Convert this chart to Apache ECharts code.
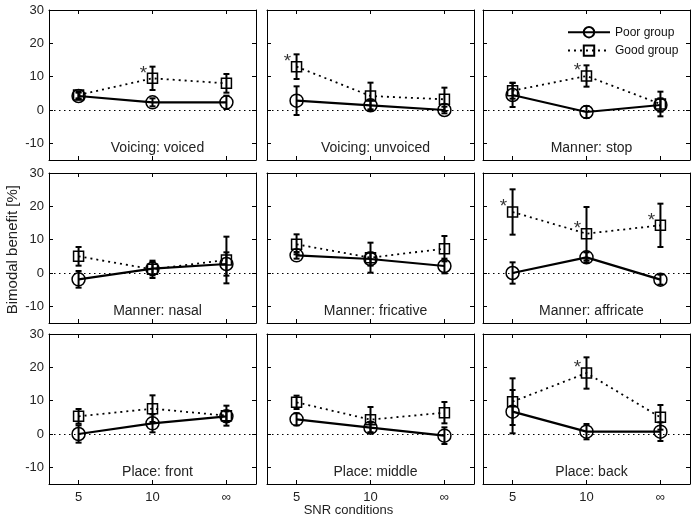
<!DOCTYPE html>
<html>
<head>
<meta charset="utf-8">
<script src="https://cdn.jsdelivr.net/npm/echarts@6/dist/echarts.min.js"></script>
<style>
  html, body { margin: 0; padding: 0; background: #fff; }
  #chart { width: 697px; height: 521px; }
</style>
</head>
<body>
<div id="chart"></div>
<script>
// SNR conditions (x positions 1..3)
const snrLabels = ['5', '10', '\u221e'];
const yTicks = [-10, 0, 10, 20, 30];

const panelTitles = [
    'Voicing: voiced', 'Voicing: unvoiced', 'Manner: stop',
    'Manner: nasal', 'Manner: fricative', 'Manner: affricate',
    'Place: front', 'Place: middle', 'Place: back'
];

// Poor group: mean and error (+/-)
const poorMean = [
    [4.2, 2.3, 2.3],
    [2.8, 1.4, 0.0],
    [4.5, -0.6, 1.5],
    [-1.9, 1.3, 2.7],
    [5.3, 4.2, 2.1],
    [0.0, 4.7, -2.0],
    [0.0, 3.2, 5.3],
    [4.4, 1.9, -0.5],
    [6.7, 0.7, 0.7]
];
const poorErr = [
    [1.0, 1.2, 2.0],
    [4.3, 1.5, 1.0],
    [3.6, 1.8, 2.0],
    [2.5, 2.0, 3.5],
    [1.0, 2.0, 2.2],
    [3.2, 1.5, 1.5],
    [2.6, 2.7, 1.5],
    [1.8, 1.5, 2.5],
    [6.5, 2.3, 2.8]
];

// Good group: mean and error (+/-)
const goodMean = [
    [4.5, 9.5, 8.0],
    [13.0, 4.2, 3.2],
    [5.8, 10.2, 1.8],
    [5.0, 1.1, 3.9],
    [8.6, 4.6, 7.3],
    [18.3, 11.8, 14.3],
    [5.3, 7.6, 5.5],
    [9.5, 4.3, 6.4],
    [9.7, 18.3, 5.0]
];
const goodErr = [
    [1.0, 3.5, 2.8],
    [3.7, 4.0, 3.5],
    [2.4, 3.2, 3.7],
    [2.8, 2.6, 7.0],
    [3.0, 4.5, 3.8],
    [6.8, 8.0, 6.5],
    [2.2, 4.0, 3.0],
    [2.0, 3.8, 3.2],
    [7.0, 4.7, 3.7]
];

// significance markers (*) for the good group
const goodSig = [
    [0, 1, 0], [1, 0, 0], [0, 1, 0],
    [0, 0, 0], [0, 0, 0], [1, 1, 1],
    [0, 0, 0], [0, 0, 0], [0, 1, 0]
];

const FONT = "'Liberation Sans', Arial, sans-serif";
const colLeft = [49, 267, 483];
const rowTop = [10, 173, 334];
const panelW = 207;
const panelH = 150;

const chart = echarts.init(document.getElementById('chart'), null, { renderer: 'canvas' });

function errorBarItem(params, api) {
    const x = api.value(0);
    const lo = api.coord([x, api.value(1)]);
    const hi = api.coord([x, api.value(2)]);
    const cap = 3;
    const style = { stroke: '#000', lineWidth: 2 };
    return {
        type: 'group',
        children: [
            { type: 'line', shape: { x1: lo[0], y1: lo[1], x2: hi[0], y2: hi[1] }, style: style },
            { type: 'line', shape: { x1: lo[0] - cap, y1: lo[1], x2: lo[0] + cap, y2: lo[1] }, style: style },
            { type: 'line', shape: { x1: hi[0] - cap, y1: hi[1], x2: hi[0] + cap, y2: hi[1] }, style: style }
        ]
    };
}

const grids = [], xAxes = [], yAxes = [], series = [], titles = [];

for (let i = 0; i < 9; i++) {
    const row = Math.floor(i / 3), col = i % 3;
    grids.push({ left: colLeft[col], top: rowTop[row], width: panelW, height: panelH });

    const axisLine = { show: true, onZero: false, lineStyle: { color: '#000', width: 1 } };
    const baseX = {
        type: 'value', gridIndex: i, min: 0.6, max: 3.4,
        axisLine: axisLine,
        axisTick: { show: true, inside: true, length: 4, customValues: [1, 2, 3], lineStyle: { color: '#000' } },
        splitLine: { show: false }
    };
    xAxes.push(Object.assign({}, baseX, {
        position: 'bottom',
        axisLabel: {
            show: row === 2, customValues: [1, 2, 3], margin: 7,
            formatter: v => snrLabels[Math.round(v) - 1],
            fontFamily: FONT, fontSize: 13, color: '#222'
        }
    }));
    xAxes.push(Object.assign({}, baseX, { position: 'top', axisLabel: { show: false } }));

    const baseY = {
        type: 'value', gridIndex: i, min: -15, max: 30,
        axisLine: axisLine,
        axisTick: { show: true, inside: true, length: 4, customValues: yTicks, lineStyle: { color: '#000' } },
        splitLine: { show: false }
    };
    yAxes.push(Object.assign({}, baseY, {
        position: 'left',
        axisLabel: {
            show: col === 0, customValues: yTicks, margin: 5,
            fontFamily: FONT, fontSize: 13, color: '#222'
        }
    }));
    yAxes.push(Object.assign({}, baseY, { position: 'right', axisLabel: { show: false } }));

    const xi = i * 2, yi = i * 2;
    const poorPts = poorMean[i].map((v, k) => [k + 1, v]);
    const goodPts = goodMean[i].map((v, k) => [k + 1, v]);

    series.push({
        type: 'custom', xAxisIndex: xi, yAxisIndex: yi, renderItem: errorBarItem,
        encode: { x: 0, y: [1, 2] }, silent: true, z: 3,
        data: poorMean[i].map((v, k) => [k + 1, v - poorErr[i][k], v + poorErr[i][k]])
    });
    series.push({
        type: 'custom', xAxisIndex: xi, yAxisIndex: yi, renderItem: errorBarItem,
        encode: { x: 0, y: [1, 2] }, silent: true, z: 3,
        data: goodMean[i].map((v, k) => [k + 1, v - goodErr[i][k], v + goodErr[i][k]])
    });
    series.push({
        name: 'Poor group', type: 'line', xAxisIndex: xi, yAxisIndex: yi,
        data: poorPts, symbol: 'circle', symbolSize: 13, z: 4,
        itemStyle: { color: 'rgba(0,0,0,0)', borderColor: '#000', borderWidth: 1.5 },
        lineStyle: { color: '#000', width: 2.2, type: 'solid' },
        markLine: {
            silent: true, symbol: 'none', label: { show: false },
            lineStyle: { color: '#000', width: 1, type: [1.5, 3.5] },
            data: [{ yAxis: 0 }]
        }
    });
    series.push({
        name: 'Good group', type: 'line', xAxisIndex: xi, yAxisIndex: yi,
        data: goodPts, symbol: 'rect', symbolSize: 10, z: 4,
        itemStyle: { color: 'rgba(0,0,0,0)', borderColor: '#000', borderWidth: 1.5 },
        lineStyle: { color: '#000', width: 1.8, type: [2, 4] }
    });

    const stars = [];
    goodSig[i].forEach((s, k) => { if (s) stars.push([k + 1, goodMean[i][k] + 3]); });
    if (stars.length) {
        series.push({
            type: 'scatter', xAxisIndex: xi, yAxisIndex: yi, data: stars,
            symbolSize: 1, itemStyle: { color: 'rgba(0,0,0,0)' }, silent: true,
            label: {
                show: true, formatter: '*', position: 'inside', offset: [-9, 5],
                fontFamily: FONT, fontSize: 19, color: '#000'
            }
        });
    }

    titles.push({
        text: panelTitles[i],
        left: colLeft[col] + panelW / 2, top: rowTop[row] + 126, textAlign: 'center',
        textStyle: { fontFamily: FONT, fontSize: 14, fontWeight: 'normal', color: '#222' }
    });
}

chart.setOption({
    backgroundColor: '#fff',
    animation: false,
    title: titles,
    grid: grids,
    xAxis: xAxes,
    yAxis: yAxes,
    series: series,
    legend: {
        data: ['Poor group', 'Good group'],
        orient: 'vertical', left: 562, top: 21,
        itemWidth: 42, itemHeight: 13, itemGap: 6,
        textStyle: { fontFamily: FONT, fontSize: 12, color: '#111' }
    },
    graphic: [
        {
            type: 'text', left: 5, top: 185,
            rotation: Math.PI / 2,
            style: { text: 'Bimodal benefit [%]', fontFamily: FONT, fontSize: 15, fill: '#222' }
        },
        {
            type: 'text', left: 'center', top: 504,
            style: { text: 'SNR conditions', fontFamily: FONT, fontSize: 13, fill: '#222' }
        }
    ]
});

window.addEventListener('resize', function() {
    chart.resize();
});
</script>
</body>
</html>
